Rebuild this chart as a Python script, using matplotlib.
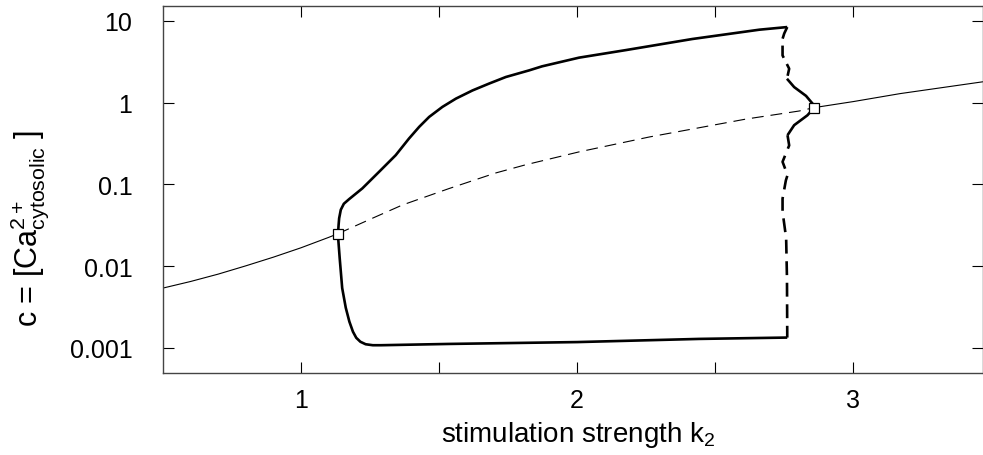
import matplotlib
matplotlib.use("Agg")
import matplotlib.pyplot as plt
from matplotlib.ticker import FixedLocator, NullLocator, FuncFormatter

plt.rcParams["font.family"] = ["Liberation Sans", "DejaVu Sans"]
plt.rcParams["mathtext.fontset"] = "custom"
plt.rcParams["mathtext.rm"] = "Liberation Sans"
plt.rcParams["mathtext.it"] = "Liberation Sans:italic"
plt.rcParams["lines.scale_dashes"] = False

# steady state branch (thin): stable left, unstable middle, stable right
SS_LEFT_X = [0.5, 0.6, 0.7, 0.8, 0.9, 1.0, 1.1, 1.134]
SS_LEFT_C = [0.0054, 0.0065, 0.0080, 0.0101, 0.0129, 0.0168, 0.0225, 0.025]
SS_MID_X = [1.134, 1.258, 1.367, 1.536, 1.705, 1.814, 2.007, 2.261, 2.612, 2.804, 2.859]
SS_MID_C = [0.025, 0.0385, 0.056, 0.089, 0.138, 0.174, 0.25, 0.38, 0.63, 0.79, 0.87]
SS_RIGHT_X = [2.859, 3.0, 3.17, 3.47, 3.5]
SS_RIGHT_C = [0.87, 1.03, 1.29, 1.80, 1.86]

# periodic orbit envelope (thick): maximum branch
MAX_X = [1.134, 1.136, 1.138, 1.144, 1.155, 1.174, 1.222, 1.283, 1.343,
         1.391, 1.428, 1.464, 1.512, 1.561, 1.621, 1.681, 1.742, 1.826,
         1.873, 2.007, 2.178, 2.417, 2.66, 2.761]
MAX_C = [0.025, 0.032, 0.0385, 0.049, 0.058, 0.066, 0.0894, 0.143, 0.228,
         0.364, 0.506, 0.669, 0.887, 1.12, 1.41, 1.71, 2.06, 2.48,
         2.78, 3.55, 4.4, 6.0, 7.8, 8.4]
# minimum branch
MIN_X = [1.134, 1.1345, 1.140, 1.149, 1.162, 1.175, 1.188, 1.200, 1.215,
         1.234, 1.26, 1.29, 1.536, 2.0, 2.442, 2.761]
MIN_C = [0.025, 0.022, 0.0125, 0.0054, 0.0031, 0.0021, 0.00158, 0.00133, 0.00119,
         0.00111, 0.00108, 0.00108, 0.00112, 0.00118, 0.00129, 0.00134]
# fold region near k2 = 2.76 (unstable dashed, stable solid)
UP_DASH_X = [2.761, 2.750, 2.744, 2.744, 2.768, 2.760]
UP_DASH_C = [8.4, 7.0, 6.03, 3.78, 2.6, 1.96]
UP_SOLID_X = [2.760, 2.786, 2.829, 2.853, 2.859]
UP_SOLID_C = [1.96, 1.55, 1.21, 0.97, 0.87]
LO_SOLID_X = [2.859, 2.834, 2.786, 2.762]
LO_SOLID_C = [0.87, 0.70, 0.53, 0.40]
LO_DASH_X = [2.762, 2.768, 2.744, 2.762, 2.756, 2.744, 2.744, 2.757, 2.760, 2.761, 2.761]
LO_DASH_C = [0.40, 0.30, 0.189, 0.130, 0.112, 0.067, 0.0465, 0.022, 0.0071, 0.00143, 0.00134]

HOPF_X = [1.134, 2.859]
HOPF_C = [0.025, 0.87]

fig = plt.figure(figsize=(9.83, 4.56), dpi=100)
ax = fig.add_axes([163 / 983, 1 - 374 / 456, 820 / 983, 367 / 456])

thin = dict(color="black", lw=0.8)
thick = dict(color="black", lw=1.9, solid_capstyle="butt", dash_capstyle="butt",
             solid_joinstyle="round")

ax.plot(SS_LEFT_X, SS_LEFT_C, **thin)
ax.plot(SS_MID_X, SS_MID_C, ls=(0, (8.5, 5)), **thin)
ax.plot(SS_RIGHT_X, SS_RIGHT_C, **thin)

ax.plot(MAX_X, MAX_C, **thick)
ax.plot(MIN_X, MIN_C, **thick)
ax.plot(UP_DASH_X, UP_DASH_C, ls=(0, (9, 5)), **thick)
ax.plot(UP_SOLID_X, UP_SOLID_C, **thick)
ax.plot(LO_SOLID_X, LO_SOLID_C, **thick)
ax.plot(LO_DASH_X, LO_DASH_C, ls=(0, (10, 5.5)), **thick)

ax.plot(HOPF_X, HOPF_C, ls="none", marker="s", ms=7.2, mfc="white",
        mec="black", mew=0.9, zorder=5)

ax.set_yscale("log")
ax.set_xlim(0.5, 3.47)
ax.set_ylim(4.94e-4, 15.2)

ax.xaxis.set_major_locator(FixedLocator([1, 2, 3]))
ax.xaxis.set_minor_locator(FixedLocator([1.5, 2.5]))
ax.yaxis.set_major_locator(FixedLocator([0.001, 0.01, 0.1, 1, 10]))
ax.yaxis.set_minor_locator(NullLocator())
ax.yaxis.set_major_formatter(FuncFormatter(lambda v, p: f"{v:g}"))

ax.tick_params(which="both", direction="in", length=8, width=0.8,
               top=True, right=True, labelsize=18)
ax.tick_params(axis="y", pad=22)
ax.tick_params(axis="x", pad=11)

for s in ax.spines.values():
    s.set_color("#444444")
    s.set_linewidth(1.0)

fig.text(578 / 983, 1 - 435 / 456, r"stimulation strength k$_{\mathrm{2}}$",
         ha="center", va="center", fontsize=20)
fig.text(30 / 983, 1 - 228 / 456,
         r"c = [Ca$^{\mathrm{2+}}_{\mathrm{cytosolic}}$ ]",
         ha="center", va="center", rotation=90, fontsize=22)

fig.savefig("out.png", dpi=100, facecolor="white")
